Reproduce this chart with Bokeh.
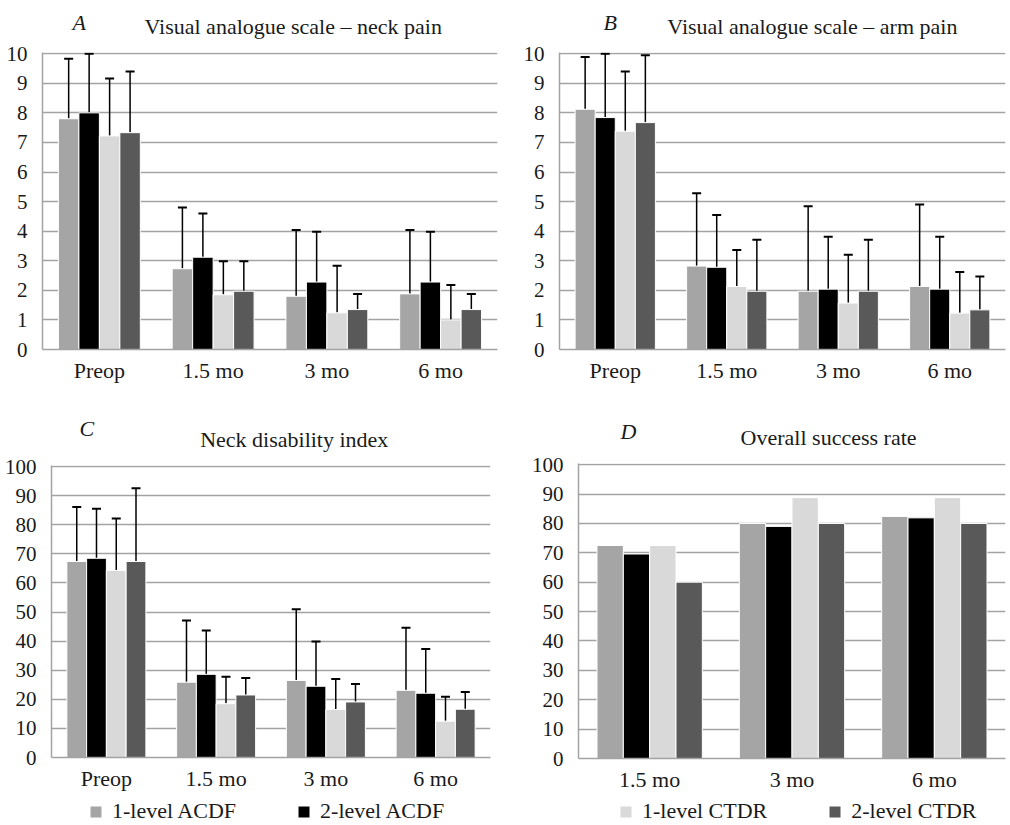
from bokeh.plotting import figure
from bokeh.layouts import column, row
from bokeh.models import (ColumnDataSource, FactorRange, FixedTicker, Whisker, TeeHead,
                          Legend, LegendItem, Range1d)
from bokeh.core.properties import value
from bokeh.transform import dodge
from bokeh.embed import file_html
from bokeh.resources import INLINE

FONT = "Liberation Serif"
TXT = "#1a1a1a"
FS = "22px"
FS_TICK = "21px"

series = ["1-level ACDF", "2-level ACDF", "1-level CTDR", "2-level CTDR"]
colors = ["#a5a5a5", "#000000", "#d9d9d9", "#595959"]

times4 = ["Preop", "1.5 mo", "3 mo", "6 mo"]
times3 = ["1.5 mo", "3 mo", "6 mo"]

# A: VAS neck pain (means, top of error bar)
neck_1acdf = [7.8, 2.73, 1.8, 1.88]
neck_2acdf = [8.0, 3.12, 2.28, 2.28]
neck_1ctdr = [7.22, 1.85, 1.24, 1.0]
neck_2ctdr = [7.33, 1.97, 1.35, 1.35]
neck_1acdf_up = [9.83, 4.8, 4.04, 4.04]
neck_2acdf_up = [10.0, 4.6, 3.98, 3.98]
neck_1ctdr_up = [9.16, 2.98, 2.83, 2.18]
neck_2ctdr_up = [9.4, 2.98, 1.88, 1.88]

# B: VAS arm pain
arm_1acdf = [8.12, 2.82, 1.97, 2.13]
arm_2acdf = [7.84, 2.78, 2.04, 2.04]
arm_1ctdr = [7.38, 2.13, 1.57, 1.23]
arm_2ctdr = [7.67, 1.97, 1.97, 1.34]
arm_1acdf_up = [9.89, 5.28, 4.84, 4.9]
arm_2acdf_up = [10.0, 4.55, 3.81, 3.81]
arm_1ctdr_up = [9.4, 3.36, 3.2, 2.62]
arm_2ctdr_up = [9.95, 3.71, 3.71, 2.47]

# C: Neck disability index
ndi_1acdf = [67.4, 25.9, 26.5, 23.1]
ndi_2acdf = [68.5, 28.6, 24.5, 22.1]
ndi_1ctdr = [64.3, 18.5, 16.5, 12.5]
ndi_2ctdr = [67.4, 21.5, 19.1, 16.6]
ndi_1acdf_up = [86.1, 47.1, 51.0, 44.6]
ndi_2acdf_up = [85.5, 43.7, 39.9, 37.3]
ndi_1ctdr_up = [82.2, 27.8, 27.0, 20.9]
ndi_2ctdr_up = [92.6, 27.3, 25.3, 22.5]

# D: Overall success rate
osr_1acdf = [72.5, 80.0, 82.4]
osr_2acdf = [69.6, 79.0, 81.9]
osr_1ctdr = [72.5, 88.8, 88.8]
osr_2ctdr = [60.0, 80.0, 80.0]

ticks_vas = list(range(0, 11))
ticks_pct = list(range(0, 101, 10))

GRID = "#a3a3a3"
PLOT_TOP = 13
MID = 7.5  # distance from text middle to baseline at 22px


def make_panel(letter, title, cats, means, uppers, ticks, width, height,
               bl, br, bt, bb, bar_w, letter_x, letter_base, title_base):
    # header strip holding the panel letter and the title
    hh = bt - PLOT_TOP
    h = figure(width=width, height=hh, x_range=Range1d(0, width), y_range=Range1d(0, hh),
               output_backend="svg", toolbar_location=None, min_border=0,
               x_axis_location=None, y_axis_location=None, outline_line_color=None,
               background_fill_color="white", border_fill_color="white")
    h.grid.visible = False
    frame_cx = bl + (width - bl - br) / 2 + 6
    h.text(x=[letter_x], y=[hh - (letter_base - MID)], text=[letter], text_font=value(FONT),
           text_font_style="italic", text_font_size=FS, text_color=TXT,
           text_baseline="middle", text_align="left")
    h.text(x=[frame_cx], y=[hh - (title_base - MID)], text=[title], text_font=value(FONT),
           text_font_size=FS, text_color=TXT, text_baseline="middle",
           text_align="center")

    p = figure(x_range=FactorRange(factors=cats), y_range=Range1d(0, ticks[-1] * 1.004),
               width=width, height=height - hh, output_backend="svg",
               toolbar_location=None, min_border_left=bl, min_border_right=br,
               min_border_top=PLOT_TOP, min_border_bottom=bb, outline_line_color=None,
               background_fill_color="white", border_fill_color="white")

    n = len(means)
    offsets = [(i - (n - 1) / 2) * bar_w for i in range(n)]
    renderers = []
    for i in range(n):
        data = dict(cat=cats, val=means[i])
        if uppers is not None:
            data["up"] = uppers[i]
        src = ColumnDataSource(data)
        r = p.vbar(x=dodge("cat", offsets[i], range=p.x_range), top="val", width=bar_w,
                   source=src, fill_color=colors[i], line_color="white", line_width=1)
        renderers.append(r)
        if uppers is not None:
            w = Whisker(source=src, base=dodge("cat", offsets[i], range=p.x_range),
                        upper="up", lower="val", dimension="height",
                        line_color="black", line_width=1.5,
                        upper_head=TeeHead(size=9, line_color="black", line_width=2),
                        lower_head=None)
            p.add_layout(w)

    p.xgrid.grid_line_color = None
    p.ygrid.grid_line_color = GRID
    p.ygrid.grid_line_width = 1.5
    p.yaxis.ticker = FixedTicker(ticks=ticks)
    for ax in (p.xaxis, p.yaxis):
        ax.axis_line_color = GRID
        ax.axis_line_width = 1.5
        ax.major_tick_line_color = None
        ax.minor_tick_line_color = None
        ax.major_label_text_font = FONT
        ax.major_label_text_color = TXT
    p.yaxis.major_label_text_font_size = FS_TICK
    p.xaxis.major_label_text_font_size = FS
    p.yaxis.major_label_standoff = 9
    p.xaxis.major_label_standoff = 2
    return column(h, p), renderers


cA, rA = make_panel("A", "Visual analogue scale \u2013 neck pain", times4,
                    [neck_1acdf, neck_2acdf, neck_1ctdr, neck_2ctdr],
                    [neck_1acdf_up, neck_2acdf_up, neck_1ctdr_up, neck_2ctdr_up],
                    ticks_vas, 500, 400, 42, 3, 52, 51, 0.18, 33, 29, 33)
cB, rB = make_panel("B", "Visual analogue scale \u2013 arm pain", times4,
                    [arm_1acdf, arm_2acdf, arm_1ctdr, arm_2ctdr],
                    [arm_1acdf_up, arm_2acdf_up, arm_1ctdr_up, arm_2ctdr_up],
                    ticks_vas, 508, 400, 59, 3, 52, 51, 0.18, 50, 29, 33)
cC, rC = make_panel("C", "Neck disability index", times4,
                    [ndi_1acdf, ndi_2acdf, ndi_1ctdr, ndi_2ctdr],
                    [ndi_1acdf_up, ndi_2acdf_up, ndi_1ctdr_up, ndi_2ctdr_up],
                    ticks_pct, 500, 397, 51, 10, 65, 40, 0.18, 32, 35, 46)
cD, rD = make_panel("D", "Overall success rate", times3,
                    [osr_1acdf, osr_2acdf, osr_1ctdr, osr_2ctdr],
                    None, ticks_pct, 508, 397, 78, 3, 63, 39, 0.185, 50, 38, 44)

# Legend strip below the panels (zero-height proxy bars carry the legend glyphs)
pL = figure(width=1008, height=27, x_range=FactorRange(factors=series),
            y_range=Range1d(0, 1), output_backend="svg", toolbar_location=None,
            min_border=0, x_axis_location=None, y_axis_location=None,
            outline_line_color=None, background_fill_color="white",
            border_fill_color="white")
pL.grid.visible = False
leg_src = ColumnDataSource(dict(name=series, color=colors, zero=[0] * len(series)))
leg_r = pL.vbar(x="name", top="zero", bottom="zero", width=0.1, source=leg_src,
                fill_color="color", line_color="white", line_width=1)


def add_legend(idx, x0):
    leg = Legend(items=[LegendItem(label=series[i], renderers=[leg_r], index=i) for i in idx],
                 orientation="horizontal", location=(x0, 0),
                 label_text_font=FONT, label_text_font_size=FS,
                 label_text_color=TXT,
                 glyph_width=15, glyph_height=15, spacing=60, label_standoff=9,
                 border_line_color=None, background_fill_color=None,
                 padding=0, margin=0)
    pL.add_layout(leg)


add_legend([0, 1], 88)
add_legend([2, 3], 618)

layout = column(row(cA, cB), row(cC, cD), pL)

open("out.html", "w").write(file_html(layout, INLINE))
